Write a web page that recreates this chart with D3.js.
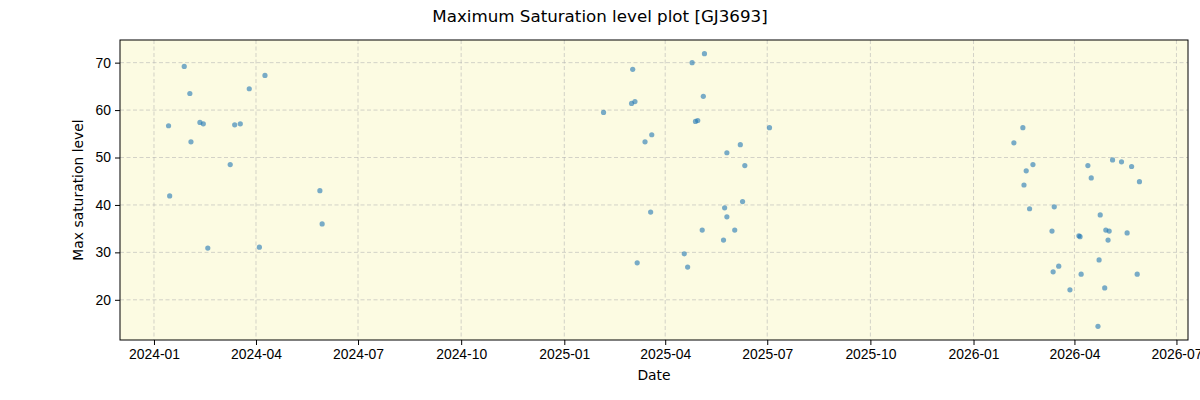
<!DOCTYPE html>
<html>
<head>
<meta charset="utf-8">
<script src="https://cdn.jsdelivr.net/npm/d3@7"></script>
<style>
  body { margin: 0; background: #fff; }
  svg { font-family: "DejaVu Sans", sans-serif; }
  .grid line { stroke: #b0b0b0; stroke-opacity: 0.55; stroke-dasharray: 4,2.5; }
  .axis text { font-size: 13.9px; fill: #000; }
  .axis path, .axis line { stroke: #000; }
</style>
</head>
<body>
<div id="chart"></div>
<script>
var WIDTH = 1200, HEIGHT = 400,
    MARGIN = {top: 40, right: 12, bottom: 60, left: 120};

var dates = [
  "2024-01-14", "2024-01-15", "2024-01-28", "2024-02-02", "2024-02-03", "2024-02-11",
  "2024-02-14", "2024-02-18", "2024-03-09", "2024-03-13", "2024-03-18", "2024-03-26",
  "2024-04-04", "2024-04-09", "2024-05-28", "2024-05-30",
  "2025-02-05", "2025-03-02", "2025-03-03", "2025-03-05", "2025-03-07", "2025-03-14",
  "2025-03-19", "2025-03-20", "2025-04-18", "2025-04-21", "2025-04-25", "2025-04-28",
  "2025-04-30", "2025-05-04", "2025-05-05", "2025-05-06", "2025-05-23", "2025-05-24",
  "2025-05-26", "2025-05-26", "2025-06-02", "2025-06-07", "2025-06-09", "2025-06-11",
  "2025-07-03",
  "2026-02-06", "2026-02-14", "2026-02-15", "2026-02-17", "2026-02-20", "2026-02-23",
  "2026-03-12", "2026-03-13", "2026-03-14", "2026-03-18", "2026-03-28", "2026-04-05",
  "2026-04-06", "2026-04-07", "2026-04-13", "2026-04-16", "2026-04-22", "2026-04-23",
  "2026-04-24", "2026-04-28", "2026-04-29", "2026-05-01", "2026-05-02", "2026-05-05",
  "2026-05-13", "2026-05-18", "2026-05-22", "2026-05-27", "2026-05-29"
];
var maxSat = [
  56.7, 41.9, 69.2, 63.5, 53.3, 57.4,
  57.1, 30.9, 48.5, 56.9, 57.1, 64.5,
  31.1, 67.3, 43.0, 36.0,
  59.5, 61.4, 68.6, 61.8, 27.8, 53.3,
  38.5, 54.8, 29.7, 26.9, 70.0, 57.6,
  57.8, 34.7, 62.9, 71.9, 32.6, 39.4,
  51.0, 37.5, 34.7, 52.7, 40.7, 48.3,
  56.3,
  53.1, 56.3, 44.2, 47.2, 39.2, 48.5,
  34.5, 25.9, 39.6, 27.1, 22.1, 33.5,
  33.3, 25.4, 48.3, 45.7, 14.4, 28.4,
  37.9, 22.5, 34.7, 32.6, 34.5, 49.5,
  49.1, 34.1, 48.1, 25.4, 44.9
];
var yTicks = [20, 30, 40, 50, 60, 70];

var parse = d3.utcParse("%Y-%m-%d");
var points = dates.map(function(d, i) { return {date: parse(d), value: maxSat[i]}; });

var w = WIDTH - MARGIN.left - MARGIN.right,
    h = HEIGHT - MARGIN.top - MARGIN.bottom;

// matplotlib-style 5% padding around the data range
function padded(ext) {
  var p = (ext[1] - ext[0]) * 0.05;
  return [ext[0] - p, ext[1] + p];
}
var tExt = padded(d3.extent(points, function(d) { return +d.date; }));
var x = d3.scaleUtc().domain([new Date(tExt[0]), new Date(tExt[1])]).range([0, w]);
var y = d3.scaleLinear().domain(padded(d3.extent(maxSat))).range([h, 0]);

var svg = d3.select("#chart").append("svg")
  .attr("width", WIDTH)
  .attr("height", HEIGHT);

svg.append("text")
  .attr("x", WIDTH / 2).attr("y", 22)
  .attr("text-anchor", "middle")
  .style("font-size", "16.7px")
  .text("Maximum Saturation level plot [GJ3693]");

var g = svg.append("g").attr("transform", "translate(" + MARGIN.left + "," + MARGIN.top + ")");

g.append("rect").attr("width", w).attr("height", h).attr("fill", "#fcfbe2");

var xTicks = d3.utcMonth.every(3).range(new Date(Date.UTC(2024, 0, 1)), new Date(Date.UTC(2026, 7, 1)));

g.append("g").attr("class", "grid")
  .selectAll("line").data(xTicks).enter().append("line")
  .attr("x1", function(d) { return x(d); }).attr("x2", function(d) { return x(d); })
  .attr("y1", 0).attr("y2", h);
g.append("g").attr("class", "grid")
  .selectAll("line").data(yTicks).enter().append("line")
  .attr("x1", 0).attr("x2", w)
  .attr("y1", function(d) { return y(d); }).attr("y2", function(d) { return y(d); });

g.selectAll("circle.pt").data(points).enter().append("circle")
  .attr("class", "pt")
  .attr("cx", function(d) { return x(d.date); })
  .attr("cy", function(d) { return y(d.value); })
  .attr("r", 2.6)
  .attr("fill", "#1f77b4")
  .attr("fill-opacity", 0.6);

g.append("g").attr("class", "axis")
  .attr("transform", "translate(0," + h + ")")
  .call(d3.axisBottom(x).tickValues(xTicks).tickFormat(d3.utcFormat("%Y-%m")).tickSize(5).tickPadding(4))
  .call(function(a) { a.select(".domain").remove(); });

g.append("g").attr("class", "axis")
  .call(d3.axisLeft(y).tickValues(yTicks).tickSize(5).tickPadding(4))
  .call(function(a) { a.select(".domain").remove(); });

g.append("rect").attr("width", w).attr("height", h)
  .attr("fill", "none").attr("stroke", "#000").attr("stroke-width", 1);

svg.append("text")
  .attr("x", MARGIN.left + w / 2).attr("y", 380)
  .attr("text-anchor", "middle")
  .style("font-size", "13.9px")
  .text("Date");

svg.append("text")
  .attr("transform", "translate(83," + (MARGIN.top + h / 2) + ") rotate(-90)")
  .attr("text-anchor", "middle")
  .style("font-size", "13.9px")
  .text("Max saturation level");
</script>
</body>
</html>
